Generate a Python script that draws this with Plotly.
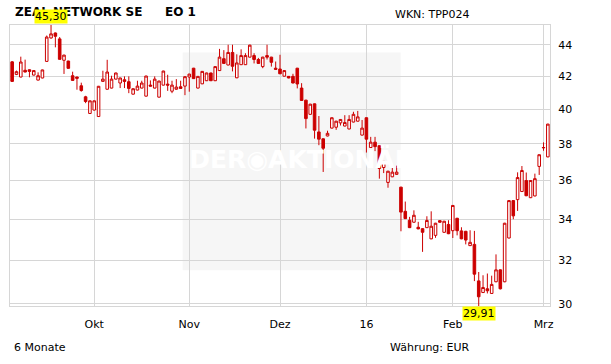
import math
import pandas as pd
import plotly.graph_objects as go

# ---------------- data ----------------
open_ = [42.90, 42.11, 41.95, 42.37, 42.40, 42.07, 41.76, 41.89, 42.93, 44.44,
         44.77, 44.38, 43.00, 42.95, 42.03, 41.95, 41.41, 40.74, 39.75, 39.95,
         39.57, 41.68, 41.20, 41.27, 41.82, 41.58, 41.78, 41.66, 40.90, 41.15,
         41.27, 40.78, 41.45, 41.27, 40.72, 41.45, 41.51, 41.08, 41.20, 41.35,
         41.39, 41.95, 42.50, 41.27, 41.53, 41.72, 42.20, 41.72, 42.35, 43.10,
         42.70, 43.50, 41.90, 42.72, 42.72, 43.20, 43.30, 43.05, 42.60, 43.30,
         43.20, 42.50, 42.45, 42.00, 41.99, 41.99, 42.50, 41.27, 40.54, 39.70,
         40.32, 38.68, 38.29, 38.45, 38.90, 38.95, 39.20, 39.02, 38.85, 39.25,
         39.30, 38.50, 39.50, 37.80, 38.10, 37.90, 36.70, 35.90, 36.20, 36.33,
         35.65, 34.40, 33.95, 33.85, 33.60, 33.53, 33.58, 33.03, 33.20, 33.93,
         33.35, 33.74, 33.43, 34.05, 33.42, 33.40, 32.70, 32.76, 31.04, 30.51,
         30.68, 30.47, 31.00, 31.55, 31.00, 33.07, 34.95, 35.00, 35.42, 36.00,
         35.10, 35.19, 36.76, 37.78, 37.28]
high = [42.95, 42.35, 43.23, 43.04, 42.42, 42.37, 42.24, 42.41, 44.60, 45.30,
        44.80, 44.50, 43.35, 42.97, 42.28, 41.97, 41.60, 40.80, 40.52, 40.52,
        41.40, 42.34, 43.03, 42.03, 42.22, 41.91, 41.99, 41.99, 41.25, 41.72,
        41.72, 42.03, 41.74, 41.99, 41.72, 42.34, 42.09, 41.72, 41.82, 41.72,
        41.99, 42.15, 42.52, 42.01, 42.32, 42.22, 42.22, 42.62, 43.73, 43.65,
        44.00, 44.00, 43.38, 43.70, 43.45, 44.00, 43.45, 43.15, 43.22, 44.00,
        43.22, 42.92, 43.35, 42.37, 42.01, 42.15, 42.52, 41.57, 40.56, 40.32,
        40.34, 39.60, 38.31, 38.75, 39.52, 39.32, 39.42, 39.65, 39.65, 39.85,
        39.90, 39.37, 39.52, 38.40, 38.40, 37.92, 37.05, 36.52, 36.75, 36.80,
        35.67, 34.90, 34.12, 34.45, 33.87, 33.55, 34.15, 34.40, 33.82, 33.95,
        33.92, 33.95, 34.72, 34.07, 33.60, 33.42, 33.45, 33.42, 31.45, 31.30,
        31.38, 31.28, 32.28, 31.57, 33.82, 34.97, 34.97, 36.44, 36.78, 36.43,
        36.02, 36.37, 37.42, 38.09, 39.15]
low = [41.65, 42.07, 41.93, 42.24, 41.93, 42.05, 41.74, 41.87, 42.90, 44.40,
       43.83, 43.04, 42.14, 42.47, 41.72, 41.17, 41.05, 40.36, 39.73, 39.93,
       39.55, 41.66, 41.18, 41.25, 41.80, 41.27, 41.27, 40.96, 40.88, 41.13,
       41.25, 40.76, 41.37, 41.25, 40.70, 41.43, 41.10, 40.96, 41.17, 41.23,
       40.84, 41.05, 41.83, 41.25, 41.51, 41.70, 41.70, 41.70, 42.33, 42.78,
       42.68, 42.30, 41.88, 42.70, 42.70, 43.18, 42.80, 42.78, 42.50, 43.05,
       42.60, 42.41, 42.13, 41.98, 41.87, 41.56, 41.25, 40.50, 38.88, 39.68,
       38.30, 37.93, 36.46, 38.43, 38.88, 38.80, 39.05, 39.00, 38.83, 39.23,
       39.28, 38.48, 37.52, 37.78, 37.60, 36.10, 36.40, 35.62, 36.18, 36.31,
       33.40, 34.01, 33.56, 33.83, 33.50, 32.40, 33.56, 33.01, 33.08, 33.83,
       33.33, 33.26, 33.07, 33.20, 33.01, 32.76, 32.68, 31.03, 29.91, 30.49,
       30.47, 30.45, 30.98, 30.65, 30.98, 33.05, 34.00, 34.42, 35.40, 35.18,
       35.08, 35.17, 36.30, 37.62, 37.26]
close = [41.68, 42.28, 42.89, 42.26, 42.30, 42.35, 42.03, 42.39, 44.50, 44.71,
         44.55, 43.06, 43.33, 42.49, 41.74, 41.87, 41.12, 40.46, 40.50, 40.50,
         41.38, 41.82, 42.26, 41.82, 42.20, 41.89, 41.68, 41.25, 41.23, 41.39,
         41.58, 42.01, 41.39, 41.82, 41.70, 42.32, 41.45, 41.45, 41.33, 41.25,
         41.97, 42.13, 41.85, 41.99, 42.30, 42.20, 41.72, 42.60, 43.20, 42.80,
         43.50, 42.62, 42.83, 43.30, 43.30, 43.97, 43.05, 42.80, 43.20, 43.20,
         42.87, 42.43, 42.15, 42.35, 41.89, 41.58, 41.52, 40.52, 39.45, 40.30,
         38.78, 38.27, 37.76, 38.60, 39.50, 39.30, 39.40, 39.22, 39.40, 39.70,
         39.55, 38.90, 38.27, 38.10, 37.85, 36.65, 37.03, 36.50, 36.45, 36.45,
         34.36, 34.03, 33.58, 34.20, 33.52, 33.35, 33.94, 33.65, 33.80, 33.85,
         33.90, 33.28, 34.70, 33.43, 33.03, 32.97, 32.86, 31.35, 30.32, 30.74,
         30.59, 30.88, 31.55, 30.68, 33.80, 34.95, 34.17, 36.16, 36.54, 35.20,
         36.00, 36.10, 37.40, 37.80, 39.13]

month_tick_labels = {10: "Okt", 11: "Nov", 12: "Dez", 1: "16", 2: "Feb", 3: "Mrz"}
y_tick_values = [30, 32, 34, 36, 38, 40, 42, 44]

holidays = ["2015-12-24", "2015-12-25", "2015-12-31", "2016-01-01"]
dates = pd.bdate_range("2015-09-04", "2016-03-02")
dates = dates[~dates.isin(pd.to_datetime(holidays))]

title_left = "ZEAL NETWORK SE"
title_mid = "EO 1"
wkn_text = "WKN: TPP024"
period_text = "6 Monate"
currency_text = "Währung: EUR"
watermark_text = "DER◉AKTIONÄR"

# ---------------- derived ----------------
n = len(dates)
xs = list(range(n))
tickvals, ticktext = [], []
for i in range(1, n):
    if dates[i].month != dates[i - 1].month:
        tickvals.append(i)
        ticktext.append(month_tick_labels[dates[i].month])

ymin, ymax = min(low), max(high)
imax = high.index(ymax)
imin = low.index(ymin)

RED = "#cc0000"
GRID = "#d6d6d6"
FONT = "DejaVu Sans"

x_range = [-0.5, n - 0.5]
y_range = [math.log10(ymin), math.log10(ymax)]

# watermark position (centre of grey box, in data space)
wm_fx, wm_fy = 0.54, 0.515
wm_x = x_range[0] + wm_fx * (x_range[1] - x_range[0])
wm_y = 10 ** (y_range[0] + wm_fy * (y_range[1] - y_range[0]))

fig = go.Figure()
fig.add_trace(go.Scatter(
    x=[wm_x], y=[wm_y], mode="text", text=[watermark_text],
    textfont=dict(family="DejaVu Sans", size=25, color="#ffffff", weight="bold"),
    hoverinfo="skip", showlegend=False))
fig.add_trace(go.Candlestick(
    x=xs, open=open_, high=high, low=low, close=close,
    increasing=dict(line=dict(color=RED, width=1), fillcolor="#ffffff"),
    decreasing=dict(line=dict(color=RED, width=1), fillcolor=RED),
    whiskerwidth=0, hoverinfo="skip", showlegend=False))

fig.update_layout(
    width=611, height=364,
    margin=dict(l=10, r=61, t=25, b=58),
    paper_bgcolor="#ffffff", plot_bgcolor="#ffffff",
    font=dict(family=FONT, size=11, color="#000000"),
    boxgap=0.15,
    showlegend=False,
    hovermode=False,
    xaxis=dict(range=x_range, tickmode="array", tickvals=tickvals, ticktext=ticktext,
               showgrid=True, gridcolor=GRID, gridwidth=1, zeroline=False,
               showline=True, mirror=True, linecolor=GRID, linewidth=1,
               ticks="", ticklabelstandoff=8, rangeslider=dict(visible=False),
               tickfont=dict(family=FONT, size=11, color="#000000")),
    yaxis=dict(type="log", side="right", range=y_range, tickmode="array",
               tickvals=y_tick_values, ticktext=[str(v) for v in y_tick_values],
               showgrid=True, gridcolor=GRID, gridwidth=1, zeroline=False,
               showline=True, mirror=True, linecolor=GRID, linewidth=1,
               ticks="", ticklabelstandoff=5,
               tickfont=dict(family=FONT, size=11, color="#000000")),
    shapes=[dict(type="rect", xref="paper", yref="paper",
                 x0=0.3198, x1=0.7235, y0=0.1273, y1=0.9023,
                 fillcolor="#f6f6f6", line=dict(width=0), layer="below")],
)

ann = []
ann.append(dict(xref="paper", yref="paper", x=(13 - 10) / 540, y=(306 - 12) / 281,
                xanchor="left", yanchor="middle", showarrow=False, text=title_left,
                font=dict(family=FONT, size=12, color="#000000", weight="bold")))
ann.append(dict(xref="paper", yref="paper", x=(163 - 10) / 540, y=(306 - 12) / 281,
                xanchor="left", yanchor="middle", showarrow=False, text=title_mid,
                font=dict(family=FONT, size=12, color="#000000", weight="bold")))
ann.append(dict(xref="paper", yref="paper", x=(393 - 10) / 540, y=(306 - 14) / 281,
                xanchor="left", yanchor="middle", showarrow=False, text=wkn_text,
                font=dict(family=FONT, size=11, color="#000000")))
ann.append(dict(xref="paper", yref="paper", x=(12 - 10) / 540, y=(306 - 347) / 281,
                xanchor="left", yanchor="middle", showarrow=False, text=period_text,
                font=dict(family=FONT, size=11, color="#000000")))
ann.append(dict(xref="paper", yref="paper", x=(388 - 10) / 540, y=(306 - 347) / 281,
                xanchor="left", yanchor="middle", showarrow=False, text=currency_text,
                font=dict(family=FONT, size=11, color="#000000")))
ann.append(dict(xref="x", yref="paper", x=imax, y=1, yshift=1,
                xanchor="center", yanchor="bottom", showarrow=False,
                text=f"{ymax:.2f}".replace(".", ","), bgcolor="#ffff00", borderpad=0,
                font=dict(family=FONT, size=11, color="#000000")))
ann.append(dict(xref="x", yref="paper", x=imin, y=0,
                xanchor="center", yanchor="top", showarrow=False,
                text=f"{ymin:.2f}".replace(".", ","), bgcolor="#ffff00", borderpad=0,
                font=dict(family=FONT, size=11, color="#000000")))
fig.update_layout(annotations=ann)

fig.write_html("out.html")
